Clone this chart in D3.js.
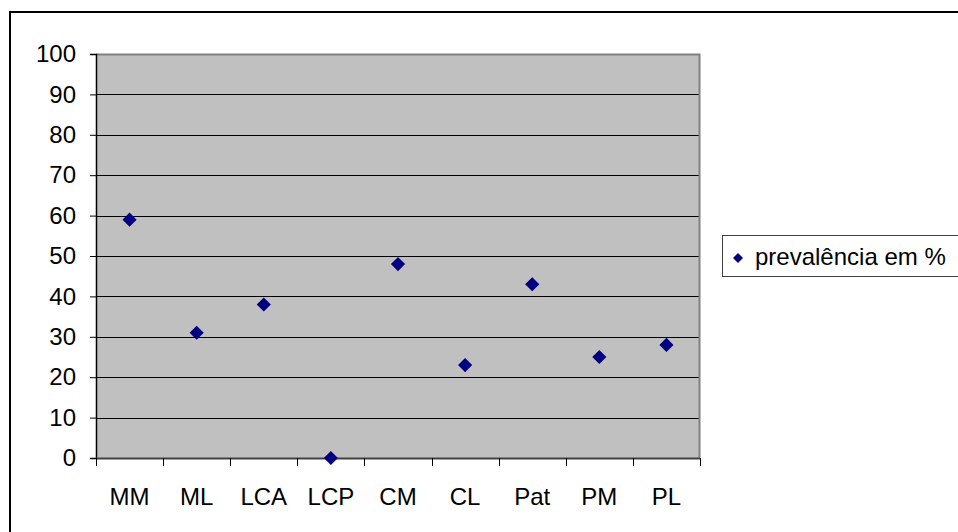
<!DOCTYPE html>
<html>
<head>
<meta charset="utf-8">
<script src="https://cdn.jsdelivr.net/npm/d3@7"></script>
<style>
  html, body { margin: 0; padding: 0; background: #fff; }
  svg { display: block; font-family: "Liberation Sans", Arial, sans-serif; }
</style>
</head>
<body>
<svg id="chart" width="958" height="532"></svg>
<script>
// Prevalence per category (%)
const categories = ["MM", "ML", "LCA", "LCP", "CM", "CL", "Pat", "PM", "PL"];
const prevalence = [59, 31, 38, 0, 48, 23, 43, 25, 28];
const yTicks = [0, 10, 20, 30, 40, 50, 60, 70, 80, 90, 100];
const seriesName = "prevalência em %";

const svg = d3.select("#chart");
const W = 958, H = 532;
const FONT = 24;

// Outer chart frame (runs off the right and bottom edges)
svg.append("rect")
  .attr("x", 10).attr("y", 12)
  .attr("width", W + 10).attr("height", H + 10)
  .attr("fill", "#fff").attr("stroke", "#000").attr("stroke-width", 2);

const plot = { left: 96, right: 700, top: 54, bottom: 458 };

const x = d3.scaleBand().domain(categories).range([plot.left, plot.right]).padding(0);
const y = d3.scaleLinear().domain([0, 100]).range([plot.bottom, plot.top]);

// Plot background
svg.append("rect")
  .attr("x", plot.left).attr("y", plot.top)
  .attr("width", plot.right - plot.left).attr("height", plot.bottom - plot.top)
  .attr("fill", "#c0c0c0");

// Horizontal gridlines
svg.append("g").selectAll("line")
  .data(yTicks.filter(t => t > 0 && t < 100))
  .join("line")
  .attr("x1", plot.left).attr("x2", plot.right)
  .attr("y1", d => Math.round(y(d)) + 0.5).attr("y2", d => Math.round(y(d)) + 0.5)
  .attr("stroke", "#000").attr("stroke-width", 1);

// Plot area border (top and right)
svg.append("path")
  .attr("d", `M${plot.left},${plot.top + 0.5} H${plot.right - 0.5} V${plot.bottom}`)
  .attr("fill", "none").attr("stroke", "#808080").attr("stroke-width", 2);

// Y axis
const yAxis = d3.axisLeft(y).tickValues(yTicks).tickSize(6).tickPadding(14);
const gy = svg.append("g").attr("transform", `translate(${plot.left},0)`).call(yAxis);
gy.select(".domain").attr("stroke", "#000").attr("stroke-width", 1.5);
gy.selectAll(".tick line").attr("stroke", "#000");
gy.selectAll(".tick text").attr("font-size", FONT).attr("fill", "#000")
  .attr("font-family", "Liberation Sans, Arial, sans-serif");

// X axis with ticks at category boundaries
const gx = svg.append("g").attr("transform", `translate(0,${plot.bottom})`);
gx.append("line")
  .attr("x1", plot.left).attr("x2", plot.right)
  .attr("y1", 0.5).attr("y2", 0.5)
  .attr("stroke", "#404040").attr("stroke-width", 2);
const bounds = categories.map(c => x(c)).concat([x(categories[categories.length - 1]) + x.bandwidth()]);
gx.selectAll("line.tk").data(bounds).join("line").attr("class", "tk")
  .attr("x1", d => Math.round(d) + 0.5).attr("x2", d => Math.round(d) + 0.5)
  .attr("y1", 0).attr("y2", 8)
  .attr("stroke", "#000").attr("stroke-width", 1);
gx.selectAll("text").data(categories).join("text")
  .attr("x", d => x(d) + x.bandwidth() / 2)
  .attr("y", 47)
  .attr("text-anchor", "middle")
  .attr("font-size", FONT).attr("fill", "#000")
  .text(d => d);

// Diamond markers
const diamond = d3.symbol().type(d3.symbolSquare).size(100);
svg.append("g").selectAll("path")
  .data(categories.map((c, i) => ({ c, v: prevalence[i] })))
  .join("path")
  .attr("d", diamond)
  .attr("transform", d => `translate(${x(d.c) + x.bandwidth() / 2},${y(d.v)}) rotate(45)`)
  .attr("fill", "#000080");

// Legend
const lg = svg.append("g").attr("transform", "translate(722,235)");
lg.append("rect")
  .attr("x", 0.5).attr("y", 0.5).attr("width", 260).attr("height", 41)
  .attr("fill", "#fff").attr("stroke", "#404040").attr("stroke-width", 1);
lg.append("path")
  .attr("d", d3.symbol().type(d3.symbolSquare).size(50))
  .attr("transform", "translate(16,23) rotate(45)")
  .attr("fill", "#000080");
lg.append("text")
  .attr("x", 33).attr("y", 30)
  .attr("font-size", FONT).attr("fill", "#000")
  .text(seriesName);
</script>
</body>
</html>
